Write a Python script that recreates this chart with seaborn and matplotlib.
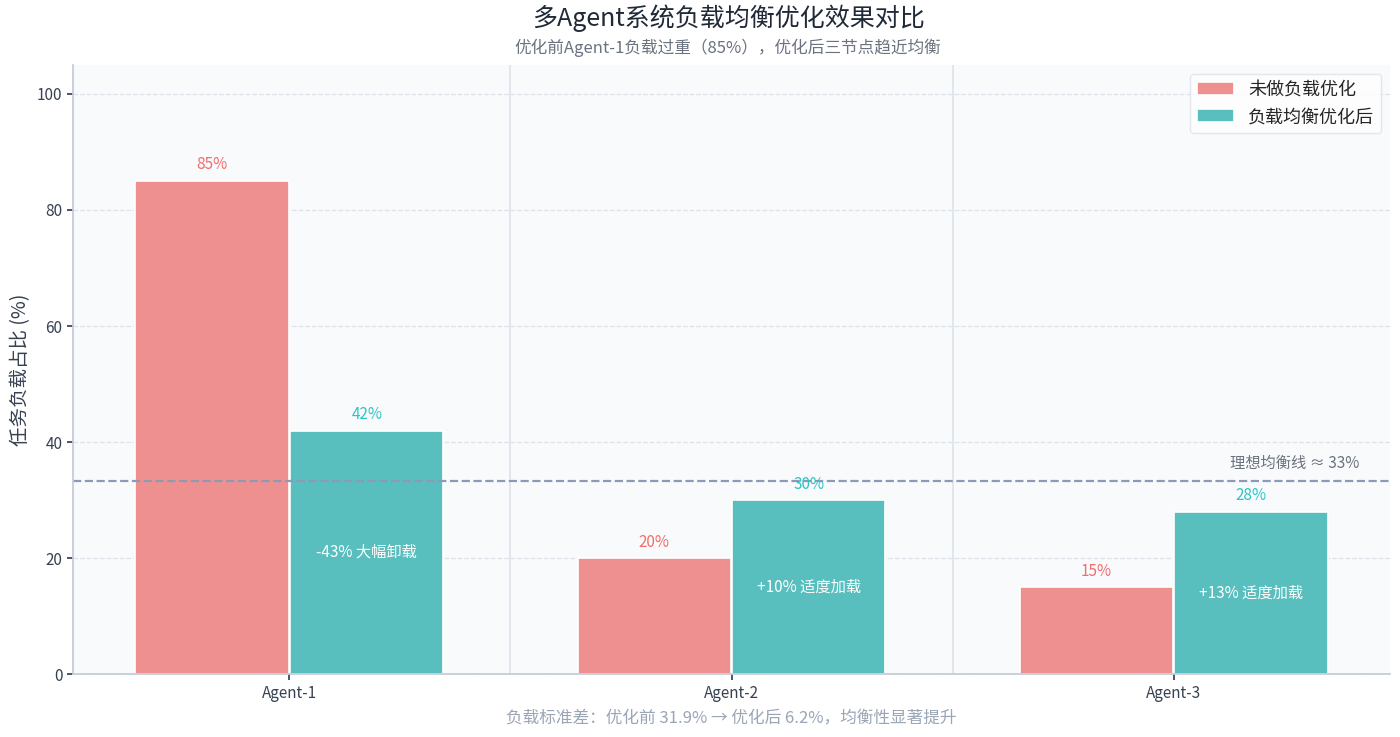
import matplotlib
matplotlib.use("Agg")
import matplotlib.pyplot as plt
import seaborn as sns
import pandas as pd

agents = ["Agent-1", "Agent-2", "Agent-3"]
before = [85, 20, 15]
after = [42, 30, 28]
notes = ["-43% 大幅卸载", "+10% 适度加载", "+13% 适度加载"]
series = ["未做负载优化", "负载均衡优化后"]

sns.set_theme(style="white")
plt.rcParams['font.family'] = ['Noto Sans CJK SC', 'DejaVu Sans']

df = pd.DataFrame({
    "agent": agents * 2,
    "value": before + after,
    "series": [series[0]] * 3 + [series[1]] * 3,
})

fig, ax = plt.subplots(figsize=(14, 7.37), dpi=100)
fig.subplots_adjust(left=0.052, right=0.993, top=0.912, bottom=0.085)
ax.set_facecolor("#f8fafc")
red, teal = "#FF8080", "#48CFCF"
sns.barplot(data=df, x="agent", y="value", hue="series", palette=[red, teal],
            width=0.7, gap=0.01, ax=ax, edgecolor="white", linewidth=1.2)
ax.set_xlim(-0.49, 2.49)
ax.set_ylim(0, 105)
ax.set_yticks([0, 20, 40, 60, 80, 100])
ax.grid(axis="y", ls="--", color="#dde3ea", lw=0.9)
ax.set_axisbelow(True)
for x in [0.5, 1.5]:
    ax.axvline(x, color="#dde3ea", lw=1.2, zorder=0)
ax.axhline(33.3, color="#8e9ab5", ls="--", lw=1.6)
ax.text(2.42, 34.8, "理想均衡线 ≈ 33%", ha="right", va="bottom", color="#6b7280", fontsize=11)

for i in range(3):
    ax.text(i - 0.175, before[i] + 1.3, f"{before[i]}%", ha="center", va="bottom", color="#f26d6d", fontsize=11)
    ax.text(i + 0.175, after[i] + 1.3, f"{after[i]}%", ha="center", va="bottom", color="#2cc5c5", fontsize=11)
    ax.text(i + 0.175, after[i] / 2, notes[i], ha="center", va="center", color="white", fontsize=11)

for s in ["top", "right"]:
    ax.spines[s].set_visible(False)
for s in ["left", "bottom"]:
    ax.spines[s].set_color("#c4cbd6")
ax.tick_params(colors="#374151", labelsize=11, left=True, bottom=True, length=4)
ax.set_xlabel("负载标准差：优化前 31.9% → 优化后 6.2%，均衡性显著提升", color="#9aa5b5", fontsize=12, labelpad=6)
ax.set_ylabel("任务负载占比 (%)", fontsize=14, color="#374151")
leg = ax.legend(title=None, loc="upper right", fontsize=13, frameon=True)
leg.get_frame().set_edgecolor("#dde3ea")
fig.text(0.52, 0.965, "多Agent系统负载均衡优化效果对比", ha="center", fontsize=18, color="#1f2937")
fig.text(0.52, 0.928, "优化前Agent-1负载过重（85%），优化后三节点趋近均衡", ha="center", fontsize=12, color="#6b7280")
fig.savefig("out.png")
